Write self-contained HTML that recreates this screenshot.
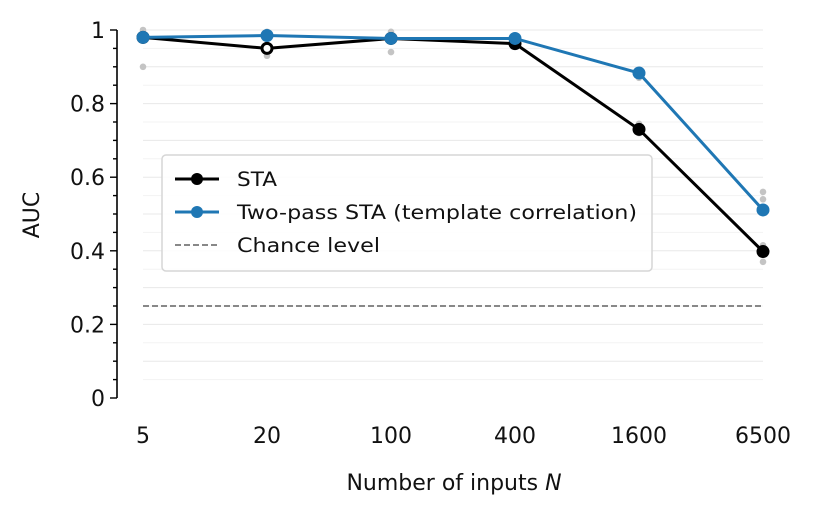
<!DOCTYPE html>
<html><head><meta charset="utf-8"><style>
html,body{margin:0;padding:0;background:#fff;}
svg{display:block;font-family:"DejaVu Sans","Liberation Sans",sans-serif;}
</style></head><body>
<svg id="chart" width="815" height="516" viewBox="0 0 815 516"></svg>
<script>
const categories=["5","20","100","400","1600","6500"];
const staValues=[0.980,0.950,0.977,0.963,0.730,0.398];
const twoPassValues=[0.980,0.985,0.977,0.977,0.883,0.511];
const trialValues=[[1.0,0.98,0.90],[0.995,0.93,0.96],[0.995,0.94,0.98],[0.97,0.96,0.975],[0.745,0.72,0.87,0.89],[0.56,0.54,0.415,0.37]];
const chanceLevel=0.25;
const yTicks=[0,0.2,0.4,0.6,0.8,1];
const yTickLabels=["0","0.2","0.4","0.6","0.8","1"];
const NS="http://www.w3.org/2000/svg";
const svg=document.getElementById('chart');
const x=i=>143+i*124;
const y=v=>398-v*368;
function mk(t,a,p){const e=document.createElementNS(NS,t);for(const k in a)e.setAttribute(k,a[k]);(p||svg).appendChild(e);return e;}
for(let k=1;k<=20;k++){const v=k*0.05;const g=mk('line',{x1:143,x2:763,y1:y(v),y2:y(v),stroke:k%2?'#f3f3f3':'#e8e8e8','stroke-width':1});

}
const ax=mk('line',{x1:117,x2:117,y1:y(0),y2:y(1),stroke:'#000','stroke-width':1.6});


for(let k=0;k<=20;k++){const v=k*0.05;const major=k%4===0;mk('line',{x1:major?110:113,x2:117,y1:y(v),y2:y(v),stroke:'#000','stroke-width':1.4});}
yTicks.forEach((v,i)=>{const t=mk('text',{x:105,y:y(v)+8,'text-anchor':'end','font-size':22,fill:'#111'});t.textContent=yTickLabels[i];

});
categories.forEach((c,i)=>{const t=mk('text',{x:x(i),y:443,'text-anchor':'middle','font-size':22,fill:'#111'});t.textContent=c;

});
const yt=mk('text',{x:39,y:215,'text-anchor':'middle','font-size':22,fill:'#111',transform:'rotate(-90 39 215)'});yt.textContent='AUC';


const xt=mk('text',{x:454,y:490,'text-anchor':'middle','font-size':22,fill:'#111'});xt.innerHTML='Number of inputs <tspan font-style="italic">N</tspan>';


const ch=mk('line',{x1:143,x2:763,y1:y(chanceLevel),y2:y(chanceLevel),stroke:'#777','stroke-width':1.8,'stroke-dasharray':'6,3'});


trialValues.forEach((arr,i)=>arr.forEach(v=>{const d=mk('circle',{cx:x(i),cy:y(v),r:3.3,fill:'#c4c4c4'});

}));
function series(vals,color,name,hollowIdx){
const l=mk('polyline',{points:vals.map((v,i)=>x(i)+','+y(v)).join(' '),fill:'none',stroke:color,'stroke-width':3});


vals.forEach((v,i)=>{const h=hollowIdx===i;const c=mk('circle',{cx:x(i),cy:y(v),r:h?5:6.5,fill:h?'#fff':color,stroke:color,'stroke-width':h?3:0});

});}
series(staValues,'#000','sta',1);
series(twoPassValues,'#1f77b4','two-pass-sta',-1);
const lg=mk('g',{});


mk('rect',{x:162,y:155,width:490,height:116,rx:4,fill:'#fff','fill-opacity':0.85,stroke:'#d6d6d6','stroke-width':1.5},lg);
const items=[['STA','#000','solid',40],['Two-pass STA (template correlation)','#1f77b4','solid',400],['Chance level','#777','dash',143]];
items.forEach((it,i)=>{const yy=179+i*33;
const e=mk('g',{},lg);


if(it[2]==='dash'){mk('line',{x1:175,x2:219,y1:yy,y2:yy,stroke:it[1],'stroke-width':1.8,'stroke-dasharray':'6,3'},e);}
else{mk('line',{x1:175,x2:219,y1:yy,y2:yy,stroke:it[1],'stroke-width':3},e);mk('circle',{cx:197,cy:yy,r:6,fill:it[1]},e);}
const t=mk('text',{x:237,y:yy+7,'font-size':19.5,fill:'#111',textLength:it[3],lengthAdjust:'spacingAndGlyphs'},e);t.textContent=it[0];});
</script>
</body></html>
